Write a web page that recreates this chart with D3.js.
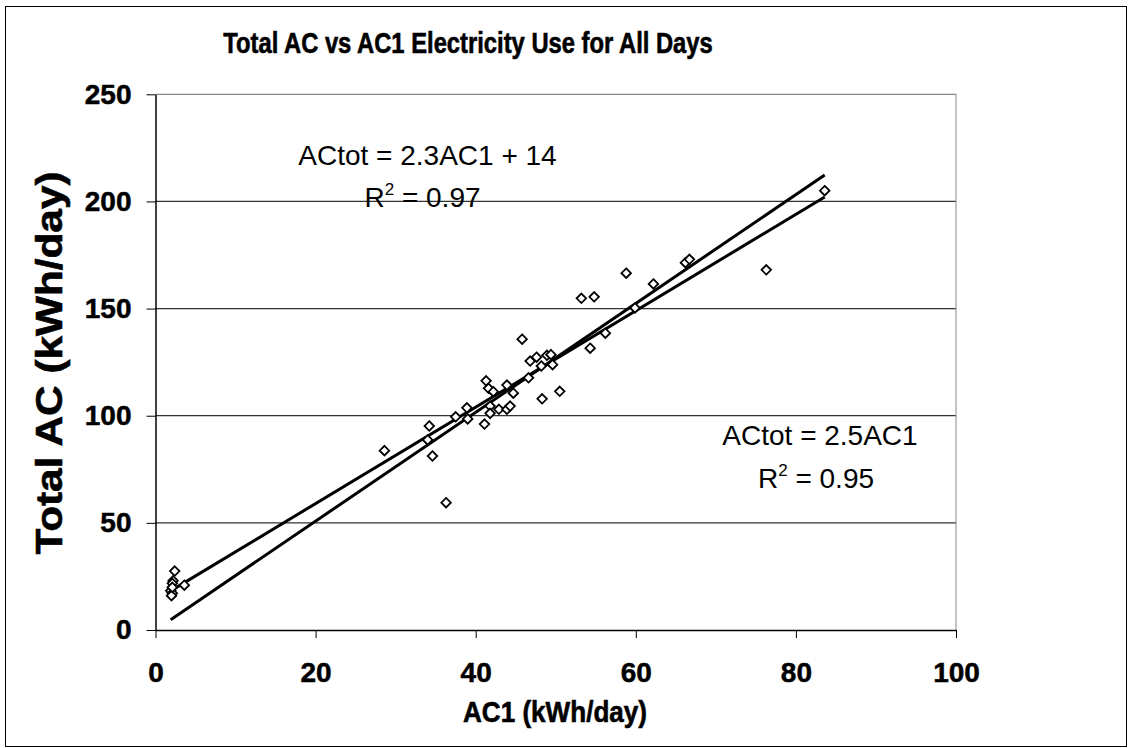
<!DOCTYPE html>
<html>
<head>
<meta charset="utf-8">
<title>Total AC vs AC1 Electricity Use for All Days</title>
<script src="https://cdn.jsdelivr.net/npm/d3@7"></script>
<style>
  body { margin: 0; background: #fff; }
  svg { display: block; font-family: "Liberation Sans", Arial, sans-serif; }
  .tick text { font-weight: bold; font-size: 28px; fill: #000; stroke: #000; stroke-width: 0.5px; }
  .heavy { font-weight: bold; fill: #000; stroke: #000; stroke-width: 0.6px; }
</style>
</head>
<body>
<div id="chart"></div>
<script>
// daily AC1 use vs total AC use (kWh/day)
var ac1 = [2.4, 2.2, 2.1, 3.6, 1.9, 2.1, 2.0, 2.1,
  28.6, 34.2, 34.0, 34.6, 37.5, 38.9, 39.0, 41.1, 41.3, 41.6, 42.2, 41.8,
  41.8, 42.9, 43.9, 44.3, 43.9, 44.7, 45.8, 46.8, 47.6, 46.6, 48.2, 48.3,
  48.9, 49.4, 49.6, 50.5, 53.2, 54.8, 54.3, 56.2, 58.8, 59.9, 62.2, 66.2,
  66.7, 76.3, 83.6, 36.3];
var acTot = [27.5, 23.0, 21.8, 20.9, 18.3, 17.2, 16.0, 19.9,
  83.7, 95.2, 88.7, 81.2, 99.5, 103.7, 98.5, 96.1, 116.3, 112.8, 111.2, 104.5,
  101.1, 103.0, 103.0, 104.5, 114.3, 110.5, 135.7, 125.5, 127.3, 117.7, 123.2, 107.9,
  128.2, 128.5, 123.8, 111.4, 154.8, 155.5, 131.5, 138.5, 166.5, 150.3, 161.5, 171.4,
  173.0, 168.1, 205.0, 59.4];

// trend lines: with intercept, through origin
var fitSlopes = [2.25, 2.54];
var fitIntercepts = [14, 0];
var fitLabels = ['ACtot = 2.3AC1 + 14', 'ACtot = 2.5AC1'];
var fitR2 = ['0.97', '0.95'];

var xTicks = [0, 20, 40, 60, 80, 100];
var yTicks = [0, 50, 100, 150, 200, 250];

var width = 1128, height = 748;

var svg = d3.select('#chart').append('svg')
  .attr('width', width)
  .attr('height', height);

// chart frame
svg.append('rect')
  .attr('x', 5.5).attr('y', 6.5)
  .attr('width', 1121).attr('height', 740)
  .attr('fill', '#fff')
  .attr('stroke', '#000');

var x = d3.scaleLinear().domain([0, 100]).range([155.5, 956]);
var y = d3.scaleLinear().domain([0, 250]).range([630, 94.3]);

// gridlines
svg.append('g').selectAll('line')
  .data(yTicks.slice(1))
  .enter().append('line')
  .attr('x1', x(0)).attr('x2', x(100))
  .attr('y1', function (d) { return y(d); })
  .attr('y2', function (d) { return y(d); })
  .attr('stroke', function (d) { return d === 250 ? '#888' : '#333'; })
  .attr('stroke-width', 1.2);

// right edge of plot area
svg.append('line')
  .attr('x1', x(100)).attr('x2', x(100))
  .attr('y1', y(250)).attr('y2', y(0))
  .attr('stroke', '#888');

var xAxis = svg.append('g')
  .attr('transform', 'translate(0,' + y(0) + ')')
  .call(d3.axisBottom(x).tickValues(xTicks).tickSize(8).tickSizeOuter(0));
var yAxis = svg.append('g')
  .attr('transform', 'translate(' + x(0) + ',0)')
  .call(d3.axisLeft(y).tickValues(yTicks).tickSize(9).tickSizeOuter(0).tickPadding(15));

[xAxis, yAxis].forEach(function (g) {
  g.select('.domain').attr('stroke', '#000').attr('stroke-width', 1.5);
  g.selectAll('.tick line').attr('stroke', '#000');
});
xAxis.selectAll('.tick text').attr('dy', '0.71em').attr('y', 32);

// trend lines
var xMin = d3.min(ac1), xMax = d3.max(ac1);
svg.append('g').selectAll('line')
  .data(fitSlopes)
  .enter().append('line')
  .attr('x1', x(xMin))
  .attr('x2', x(xMax))
  .attr('y1', function (d, i) { return y(d * xMin + fitIntercepts[i]); })
  .attr('y2', function (d, i) { return y(d * xMax + fitIntercepts[i]); })
  .attr('stroke', '#000')
  .attr('stroke-width', 3);

// points as open diamonds
var diamond = d3.symbol().type(d3.symbolDiamond2).size(58);
svg.append('g').selectAll('path')
  .data(ac1)
  .enter().append('path')
  .attr('d', diamond)
  .attr('transform', function (d, i) {
    return 'translate(' + x(d) + ',' + y(acTot[i]) + ')';
  })
  .attr('fill', '#fff')
  .attr('stroke', '#000')
  .attr('stroke-width', 1.8);

// trend line labels
var labelPos = [[427.5, 165, 422.5, 207], [820, 445, 816, 488]];
labelPos.forEach(function (p, i) {
  svg.append('text')
    .attr('x', p[0]).attr('y', p[1])
    .attr('text-anchor', 'middle')
    .style('font-size', '28px')
    .text(fitLabels[i]);
  var t = svg.append('text')
    .attr('x', p[2]).attr('y', p[3])
    .attr('text-anchor', 'middle')
    .style('font-size', '28px');
  t.append('tspan').text('R');
  t.append('tspan').attr('dy', -12).style('font-size', '17px').text('2');
  t.append('tspan').attr('dy', 12).text(' = ' + fitR2[i]);
});

// title and axis titles
svg.append('text')
  .attr('class', 'heavy')
  .attr('transform', 'translate(468,53) scale(0.82,1)')
  .attr('text-anchor', 'middle')
  .style('font-size', '29px')
  .text('Total AC vs AC1 Electricity Use for All Days');

svg.append('text')
  .attr('class', 'heavy')
  .attr('x', 555).attr('y', 722)
  .attr('text-anchor', 'middle')
  .attr('textLength', 184)
  .attr('lengthAdjust', 'spacingAndGlyphs')
  .style('font-size', '30px')
  .text('AC1 (kWh/day)');

svg.append('text')
  .attr('class', 'heavy')
  .attr('transform', 'translate(62,363) rotate(-90)')
  .attr('text-anchor', 'middle')
  .attr('textLength', 383)
  .attr('lengthAdjust', 'spacingAndGlyphs')
  .style('font-size', '37px')
  .text('Total AC (kWh/day)');
</script>
</body>
</html>
